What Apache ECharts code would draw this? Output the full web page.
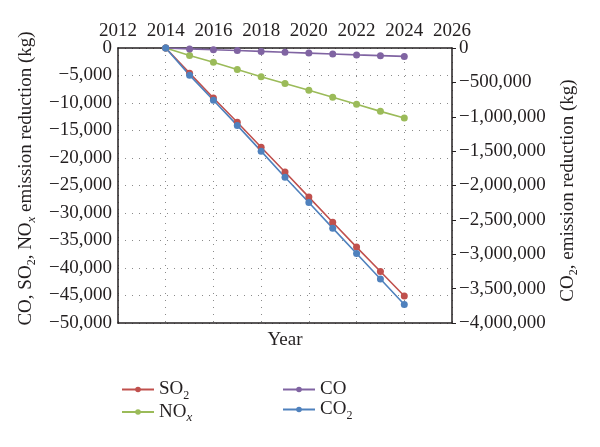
<!DOCTYPE html>
<html><head><meta charset="utf-8">
<script src="https://cdn.jsdelivr.net/npm/echarts@6/dist/echarts.min.js"></script>
<style>html,body{margin:0;padding:0;background:#fff}#c{width:600px;height:447px}</style>
</head><body><div id="c"></div>
<script>
const years = [2014,2015,2016,2017,2018,2019,2020,2021,2022,2023,2024];
const so2 = [0,-4570,-9090,-13500,-18040,-22540,-27110,-31680,-36200,-40640,-45100];
const nox = [0,-1350,-2610,-3890,-5240,-6460,-7680,-8960,-10240,-11520,-12740];
const co  = [0,-160,-310,-460,-620,-770,-930,-1090,-1250,-1390,-1530];
const co2 = [0,-395000,-760000,-1126000,-1500000,-1880000,-2247000,-2620000,-2990000,-3360000,-3730000];
const seriesNames = ['SO2','NOx','CO','CO2'];
const xTicks = {min:2012, max:2026, interval:2};
const yLeft = {min:-50000, max:0, interval:5000};
const yRight = {min:-4000000, max:0, interval:500000};

const FONT = 'Liberation Serif';
const colors = {SO2:'#c0504d', NOx:'#9bbb59', CO:'#8064a2', CO2:'#4f81bd'};
const richBase = {
  a:{fontFamily:FONT,fontSize:19,color:'#231f20',lineHeight:24,verticalAlign:'middle'},
  s:{fontFamily:FONT,fontSize:12,color:'#231f20',lineHeight:10,verticalAlign:'bottom'},
  si:{fontFamily:FONT,fontSize:13,fontStyle:'italic',color:'#231f20',lineHeight:10,verticalAlign:'bottom'}
};
const legendRich = {SO2:'{a|SO}{s|2}', NOx:'{a|NO}{si|x}', CO:'{a|CO}', CO2:'{a|CO}{s|2}'};
const fmtNum = v => (v<0?'\u2212':'') + Math.abs(v).toLocaleString('en-US');
const pair = arr => years.map((y,i)=>[y,arr[i]]);

const chart = echarts.init(document.getElementById('c'));
const txt = {fontFamily:FONT,fontSize:19,color:'#231f20'};
const dotted = {show:true,lineStyle:{color:'#8a8a8a',type:[1,6],width:1}};
const axisLn = {show:true,onZero:false,lineStyle:{color:'#231f20',width:1.5}};
const mkSeries = (name, data, yi) => ({
  name, type:'line', xAxisIndex:0, yAxisIndex:yi, data:pair(data),
  symbol:'circle', symbolSize:7, showSymbol:true,
  itemStyle:{color:colors[name]}, lineStyle:{color:colors[name],width:1.6}
});
chart.setOption({
  animation:false,
  backgroundColor:'#fff',
  grid:{left:118,right:148,top:48,bottom:124,containLabel:false},
  xAxis:[
    {type:'value',position:'top',min:xTicks.min,max:xTicks.max,interval:xTicks.interval,
     axisLine:axisLn,
     axisTick:{show:false},
     axisLabel:{...txt,margin:7,formatter:v=>String(v)},
     splitLine:dotted},
    {type:'value',position:'bottom',min:xTicks.min,max:xTicks.max,interval:xTicks.interval,
     axisLine:axisLn,
     axisTick:{show:false},axisLabel:{show:false},splitLine:{show:false},
     name:'Year',nameLocation:'middle',nameGap:8,nameTextStyle:{...txt,verticalAlign:'top'}}
  ],
  yAxis:[
    {type:'value',position:'left',min:yLeft.min,max:yLeft.max,interval:yLeft.interval,
     axisLine:axisLn,
     axisTick:{show:false},
     axisLabel:{...txt,margin:6,formatter:fmtNum},
     splitLine:dotted,
     name:'{a|CO, SO}{s|2}{a|, NO}{si|x}{a| emission reduction (kg)}',
     nameLocation:'middle',nameGap:74,nameRotate:90,
     nameTextStyle:{rich:richBase,padding:[0,0,0,14]}},
    {type:'value',position:'right',min:yRight.min,max:yRight.max,interval:yRight.interval,
     axisLine:axisLn,
     axisTick:{show:true,inside:false,length:4,lineStyle:{color:'#231f20'}},
     axisLabel:{...txt,margin:7,formatter:fmtNum},
     splitLine:{show:false},
     name:'{a|CO}{s|2}{a|, emission reduction (kg)}',
     nameLocation:'middle',nameGap:104,nameRotate:90,
     nameTextStyle:{rich:richBase,padding:[0,10,0,0]}}
  ],
  legend:[
    {data:['SO2','NOx'],orient:'vertical',left:116,top:375,itemWidth:32,itemHeight:7,itemGap:1,
     formatter:n=>legendRich[n],textStyle:{rich:richBase}},
    {data:['CO','CO2'],orient:'vertical',left:277,top:375,itemWidth:32,itemHeight:7,itemGap:1,
     formatter:n=>legendRich[n],textStyle:{rich:richBase}}
  ],
  series:[
    mkSeries('SO2',so2,0),
    mkSeries('NOx',nox,0),
    mkSeries('CO',co,0),
    mkSeries('CO2',co2,1)
  ]
});
</script></body></html>
